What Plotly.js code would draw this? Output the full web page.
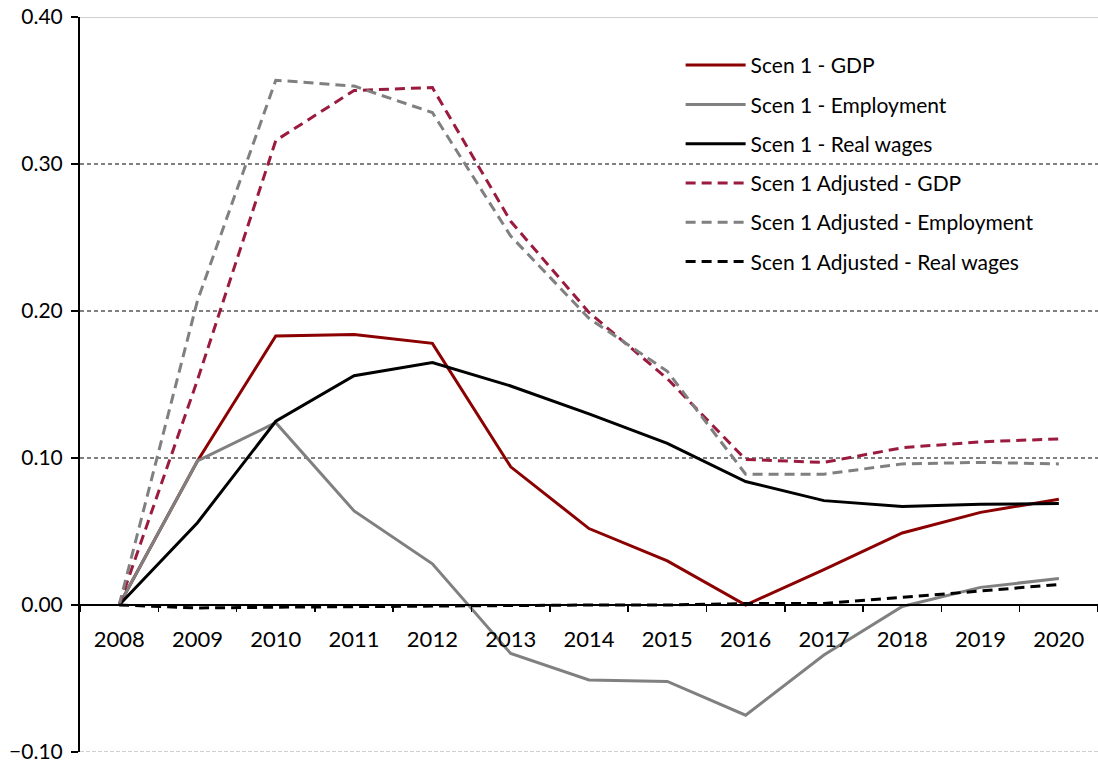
<!DOCTYPE html>
<html>
<head>
<meta charset="utf-8">
<script src="https://cdn.plot.ly/plotly-3.0.1.min.js"></script>
<style>html,body{margin:0;padding:0;background:#fff;}#chart{width:1098px;height:765px;}</style>
</head>
<body>
<div id="chart"></div>
<script>
const years = ["2008","2009","2010","2011","2012","2013","2014","2015","2016","2017","2018","2019","2020"];
const gdp = [0, 0.098, 0.183, 0.184, 0.178, 0.094, 0.052, 0.030, 0.000, 0.024, 0.049, 0.063, 0.072];
const employment = [0, 0.098, 0.124, 0.064, 0.028, -0.033, -0.051, -0.052, -0.075, -0.034, -0.001, 0.012, 0.018];
const realWages = [0, 0.056, 0.125, 0.156, 0.165, 0.149, 0.130, 0.110, 0.084, 0.071, 0.067, 0.0685, 0.069];
const adjGdp = [0, 0.153, 0.316, 0.350, 0.352, 0.261, 0.199, 0.154, 0.099, 0.097, 0.107, 0.111, 0.113];
const adjEmployment = [0, 0.207, 0.357, 0.353, 0.335, 0.251, 0.195, 0.159, 0.089, 0.089, 0.096, 0.097, 0.096];
const adjRealWages = [0, -0.002, -0.0015, -0.001, -0.0005, 0, 0, 0, 0.001, 0.001, 0.005, 0.0095, 0.014];
const yTicks = [-0.1, 0, 0.1, 0.2, 0.3, 0.4];

const DASH = "10px,6px";
function tr(name, y, color, dash, g) {
  return {x: years, y: y, name: name, type: "scatter", mode: "lines",
    line: {color: color, width: 3, dash: dash || "solid"}, legendgroup: g, hoverinfo: "x+y+name"};
}
const data = [
  tr("Scen 1 - GDP", gdp, "#8B0000", null, "g1"),
  tr("Scen 1 - Employment", employment, "#808080", null, "g2"),
  tr("Scen 1 - Real wages", realWages, "#000000", null, "g3"),
  tr("Scen 1 Adjusted - GDP", adjGdp, "#9B1B3E", DASH, "g4"),
  tr("Scen 1 Adjusted - Employment", adjEmployment, "#808080", DASH, "g5"),
  tr("Scen 1 Adjusted - Real wages", adjRealWages, "#000000", DASH, "g6")
];
const FONT = "Lato, 'Open Sans', sans-serif";
const layout = {
  width: 1098, height: 765,
  margin: {l: 80, r: 0, t: 17, b: 13, pad: 0},
  paper_bgcolor: "#fff", plot_bgcolor: "#fff",
  font: {family: FONT, color: "#000", size: 21},
  showlegend: true,
  legend: {x: 0.59, y: 0.962, xanchor: "left", yanchor: "top", traceorder: "grouped",
    tracegroupgap: 9, font: {family: FONT, size: 21, color: "#000"}, bgcolor: "rgba(0,0,0,0)", itemwidth: 60},
  xaxis: {type: "category", range: [-0.5, 12.5], anchor: "free", position: 0.2,
    showline: true, linecolor: "#000", linewidth: 2, showgrid: false, zeroline: false,
    ticks: "outside", ticklen: 6, tickwidth: 1.5, tickcolor: "#000", tickson: "boundaries",
    ticklabelstandoff: 15, tickfont: {family: FONT, size: 22, color: "#000"}, fixedrange: true},
  yaxis: {range: [-0.1, 0.4], tickvals: yTicks, tickformat: ".2f",
    showline: true, linecolor: "#000", linewidth: 2, ticks: "outside", ticklen: 7, tickwidth: 1.5, tickcolor: "#000",
    showgrid: true, gridcolor: "#808080", gridwidth: 1.5, griddash: "4px,3px", zeroline: false,
    tickfont: {family: FONT, size: 21, color: "#000"}, ticklabelstandoff: 4, fixedrange: true},
  shapes: [
    {type: "line", xref: "paper", yref: "y", x0: 0, x1: 1, y0: 0.4, y1: 0.4, line: {color: "#cfcfcf", width: 2}, layer: "above"},
    {type: "line", xref: "paper", yref: "y", x0: 0, x1: 1, y0: -0.1, y1: -0.1, line: {color: "#cfcfcf", width: 2, dash: "4px,2px"}, layer: "above"}
  ]
};
Plotly.newPlot("chart", data, layout, {displayModeBar: false, staticPlot: true});
</script>
</body>
</html>
